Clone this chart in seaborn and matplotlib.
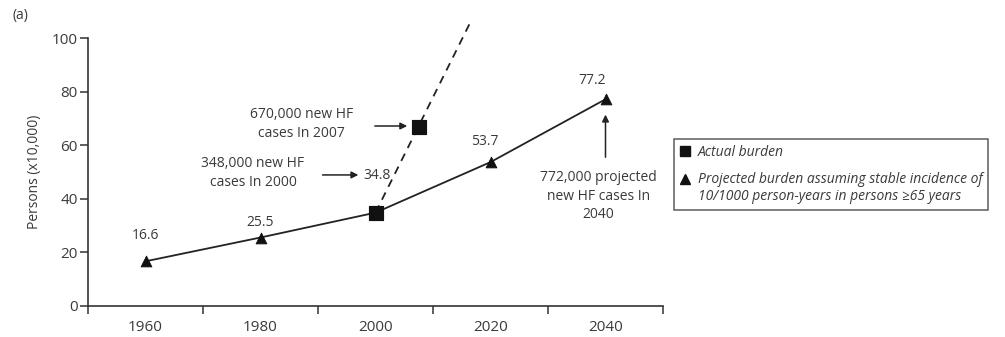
import matplotlib
matplotlib.use("Agg")
import matplotlib.pyplot as plt
import seaborn as sns
import pandas as pd
from matplotlib.lines import Line2D

# ---- data ----
years = [1960, 1980, 2000, 2020, 2040]
burden = [16.6, 25.5, 34.8, 53.7, 77.2]
value_labels = ["16.6", "25.5", "34.8", "53.7", "77.2"]
projected_years = [1960, 1980, 2020, 2040]
projected_vals = [16.6, 25.5, 53.7, 77.2]
actual_years = [2000, 2007.5]
actual_vals = [34.8, 67.0]
trend_years = [2000, 2016.5]
trend_vals = [34.8, 106.0]
xtick_labels = ["1960", "1980", "2000", "2020", "2040"]
yticks = [0, 20, 40, 60, 80, 100]

sns.set_style("white")
plt.rcParams["font.family"] = ["Open Sans", "DejaVu Sans"]
TXT = "#3a3a3a"
FS = 10
TFS = 11

fig = plt.figure(figsize=(10.05, 3.37), dpi=100)
ax = fig.add_axes([88/1005, 1-305.7/337, (663-88)/1005, (305.7-38.3)/337])

df = pd.DataFrame({"year": years, "val": burden})
sns.lineplot(data=df, x="year", y="val", ax=ax, color="#222222", lw=1.3)
dft = pd.DataFrame({"year": trend_years, "val": trend_vals})
sns.lineplot(data=dft, x="year", y="val", ax=ax, color="#222222", lw=1.3,
             linestyle=(0, (4.5, 3.5)))
for l in ax.lines:
    l.set_clip_on(False)
dfp = pd.DataFrame({"year": projected_years, "val": projected_vals})
sns.scatterplot(data=dfp, x="year", y="val", ax=ax, marker="^", s=60,
                color="#111111", edgecolor="#111111", zorder=5, clip_on=False)
dfa = pd.DataFrame({"year": actual_years, "val": actual_vals})
sns.scatterplot(data=dfa, x="year", y="val", ax=ax, marker="s", s=110,
                color="#111111", edgecolor="#111111", zorder=6, clip_on=False)

ax.set_xlim(1950, 2050)
ax.set_ylim(0, 100)
ax.set_xticks([1950, 1970, 1990, 2010, 2030, 2050])
ax.set_xticklabels([])
ax.set_xticks(years, minor=True)
ax.set_xticklabels(xtick_labels, minor=True)
ax.tick_params(axis="x", which="minor", bottom=True, length=0, pad=10,
               labelsize=TFS, labelcolor=TXT)
ax.tick_params(axis="x", which="major", bottom=True, length=6, width=1.1,
               color="#333333", direction="out")
ax.set_yticks(yticks)
ax.set_yticklabels([str(v) for v in yticks])
ax.tick_params(axis="y", left=True, length=6, width=1.1, color="#333333",
               direction="out", labelsize=TFS, labelcolor=TXT, pad=1.5)
for s in ["top", "right"]:
    ax.spines[s].set_visible(False)
for s in ["left", "bottom"]:
    ax.spines[s].set_color("#333333")
    ax.spines[s].set_linewidth(1.2)
ax.set_xlabel("")
ax.set_ylabel("Persons (x10,000)", fontsize=FS, color=TXT, labelpad=7)

# value labels
label_pos = {1960: (1960, 26.4), 1980: (1980, 31.3), 2000: (2000.3, 48.8),
             2020: (2019.0, 61.3), 2040: (2037.6, 84.4)}
for yr, t in zip(years, value_labels):
    x, y = label_pos[yr]
    ax.text(x, y, t, fontsize=FS, color=TXT, ha="center", va="center")

arrow = dict(arrowstyle="-|>", color="#222222", lw=1.1, mutation_scale=10)
# 2000 annotation
ax.text(1978.7, 49.6, "348,000 new HF\ncases In 2000", fontsize=FS, color=TXT,
        ha="center", va="center", linespacing=1.3)
ax.annotate("", xy=(1997.5, 48.9), xytext=(1990.3, 48.9), arrowprops=arrow)
# 2007 annotation
ax.text(1987.2, 68.0, "670,000 new HF\ncases In 2007", fontsize=FS, color=TXT,
        ha="center", va="center", linespacing=1.3)
ax.annotate("", xy=(2006.0, 67.2), xytext=(1999.4, 67.2), arrowprops=arrow)
# 2040 annotation
ax.text(2038.8, 41.0, "772,000 projected\nnew HF cases In\n2040", fontsize=FS, color=TXT,
        ha="center", va="center", linespacing=1.3)
ax.annotate("", xy=(2040, 72.5), xytext=(2040, 54.5), arrowprops=arrow)

# legend
handles = [Line2D([], [], marker="s", ls="", color="#111111", markersize=7),
           Line2D([], [], marker="^", ls="", color="#111111", markersize=7)]
labels = ["Actual burden",
          "Projected burden assuming stable incidence of\n10/1000 person-years in persons \u226565 years"]
leg = fig.legend(handles, labels, loc="upper left", bbox_to_anchor=(674/1005, 1-139/337),
                 borderaxespad=0, frameon=True, fancybox=False, edgecolor="#333333",
                 borderpad=0.4, handlelength=0.8, handletextpad=0.5, labelspacing=0.9,
                 prop={"size": FS, "style": "italic"})
leg.get_frame().set_linewidth(1.1)
for t in leg.get_texts():
    t.set_color(TXT)
# align the triangle handle with the first line of its two-line label
h2 = leg.legend_handles[1]
h2.set_ydata([y + 7 for y in h2.get_ydata()])

fig.text(12/1005, 1-15/337, "(a)", fontsize=FS, color=TXT, ha="left", va="center")

fig.savefig("out.png", dpi=100)
